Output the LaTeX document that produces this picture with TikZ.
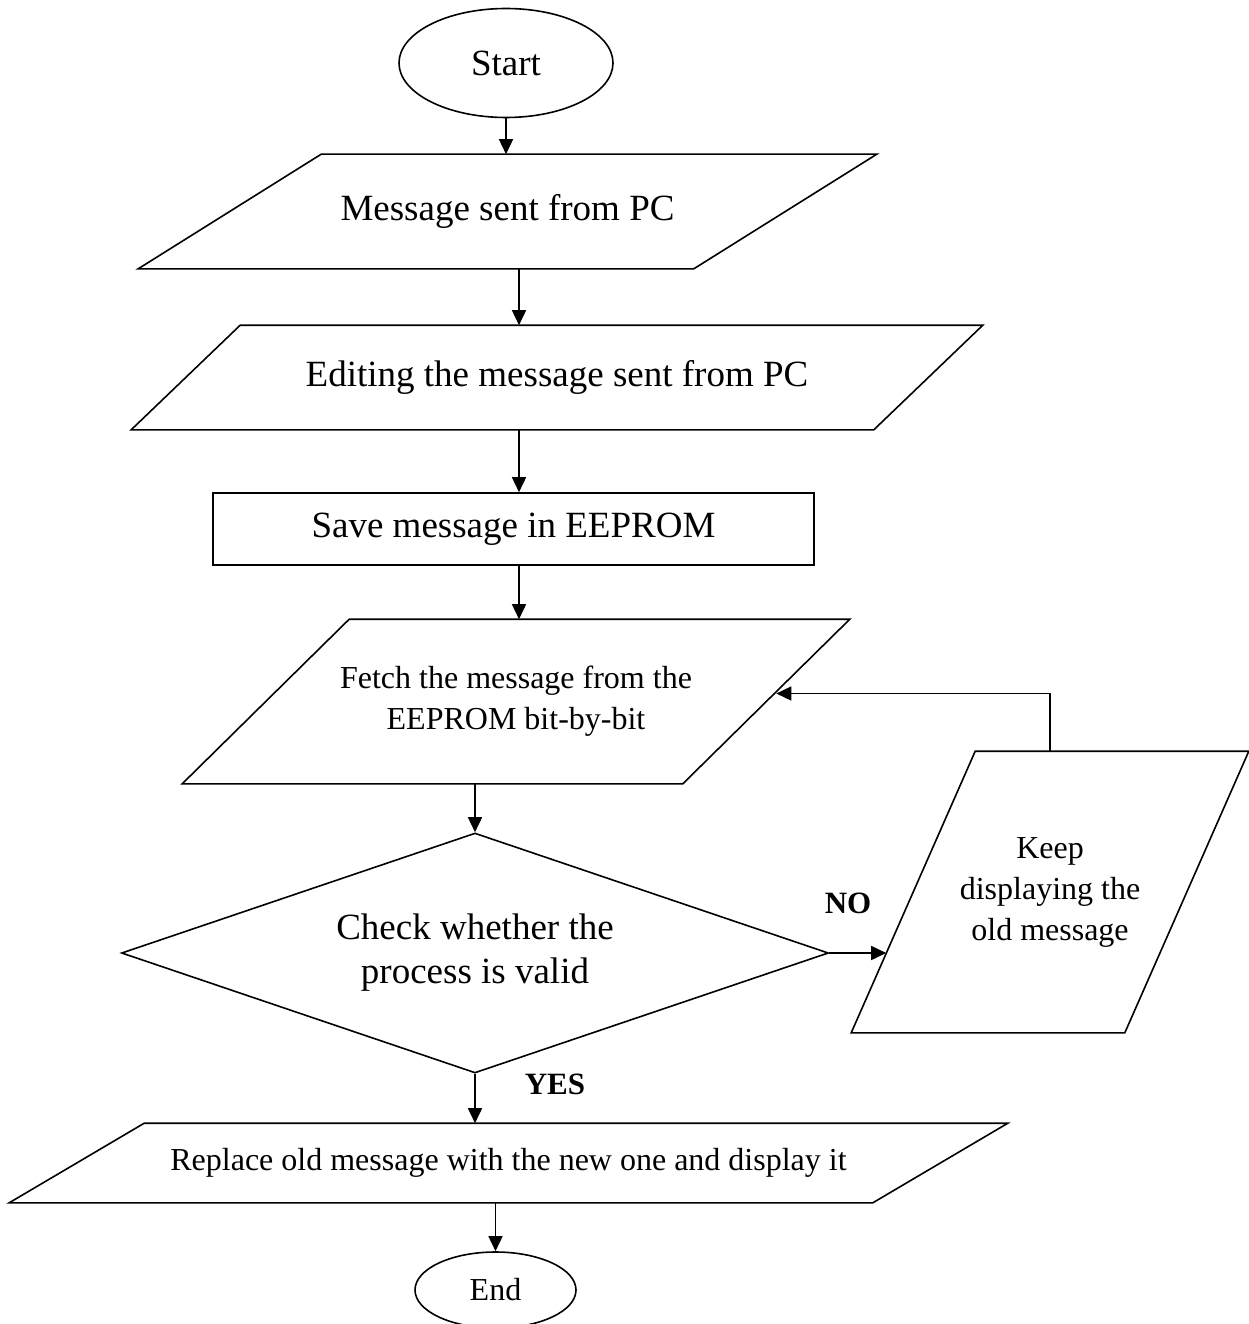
\documentclass[tikz,border=0pt]{standalone}
\usepackage{fontspec}
\setmainfont{Liberation Serif}
\usepackage{tikz}
\usetikzlibrary{shapes.geometric, arrows.meta, positioning, calc}
\definecolor{ink}{RGB}{0, 0, 0}
\newcommand{\bigtext}{\fontsize{37}{44}\selectfont}
\newcommand{\smalltext}{\fontsize{32}{41}\selectfont}
\tikzset{
  baseblock/.style={
    draw=ink, line width=1.6pt, align=center, inner sep=0pt, font=\bigtext
  },
  termblock/.style={baseblock, ellipse},
  processblock/.style={baseblock, rectangle},
  % slanted input/output box, #1 = horizontal slant of the sides
  ioblock/.style={
    baseblock, rectangle, draw=none,
    append after command={\pgfextra{\let\ionode\tikzlastnode
      \draw[draw=ink, line width=1.6pt, line join=miter]
        ([xshift={-0.5*#1pt}]\ionode.south west) -- ([xshift={-0.5*#1pt}]\ionode.south east)
        -- ([xshift={0.5*#1pt}]\ionode.north east) -- ([xshift={0.5*#1pt}]\ionode.north west)
        -- cycle;}}
  },
  decisionblock/.style={baseblock, diamond, aspect=2.9},
  flowline/.style={
    draw=ink, line width=1.6pt, -{Triangle[length=15pt, width=14pt]}
  },
  answer/.style={font=\fontsize{31}{37}\selectfont\bfseries, inner sep=0pt}
}

\begin{document}
\begin{tikzpicture}[x=1pt, y=-1pt]
  \useasboundingbox (0,0) rectangle (1249,1324);
  \coordinate (col) at (519,0);

  % Start
  \node[termblock, minimum width=214pt, minimum height=109pt] (start) at (506,63) {Start};

  % input from PC
  \node[ioblock=183, minimum width=554pt, minimum height=113pt] (pcmsg) at (507.5,211.5) {Message sent from PC};

  % editing
  \node[ioblock=109, minimum width=741pt, minimum height=103pt] (editmsg) at (557,377.5) {Editing the message sent from PC};

  % save
  \node[processblock, minimum width=601pt, minimum height=72pt] (save) at (513.5,529) {Save message in EEPROM};

  % fetch
  \node[ioblock=167, minimum width=499pt, minimum height=163pt, font=\smalltext] (fetch) at (516,701.5) {Fetch the message from the\\EEPROM bit-by-bit};

  % check
  \node[decisionblock, minimum width=707pt, minimum height=240pt] (check) at (475,953) {Check whether the\\process is valid};

  % keep old one
  \node[ioblock=124, minimum width=272pt, minimum height=280pt, font=\smalltext] (keep) at (1050,892) {Keep\\displaying the\\old message};

  % replace
  \node[ioblock=135, minimum width=862pt, minimum height=78pt, font=\smalltext] (replace) at (508.5,1163) {Replace old message with the new one and display it};

  % End
  \node[termblock, minimum width=161pt, minimum height=76pt, font=\smalltext] (finish) at (495.5,1290) {End};

  \node[answer] (no) at (848,903) {NO};
  \node[answer] (yes) at (555,1084) {YES};

  \draw[flowline] (start.south) -- (start.south |- pcmsg.north);
  \draw[flowline] (pcmsg.south -| col) -- (editmsg.north -| col);
  \draw[flowline] (editmsg.south -| col) -- (save.north -| col);
  \draw[flowline] (save.south -| col) -- (fetch.north -| col);
  \draw[flowline] (fetch.south -| check.north) -- (check.north);
  \draw[flowline] (check.east) -- ([xshift=-27pt]check.east -| keep.west);
  \draw[flowline] (keep.north) |- ([xshift=10pt, yshift=8pt]fetch.east);
  \draw[flowline] (check.south) -- (check.south |- replace.north);
  \draw[flowline] (replace.south -| finish.north) -- (finish.north);
\end{tikzpicture}
\end{document}
